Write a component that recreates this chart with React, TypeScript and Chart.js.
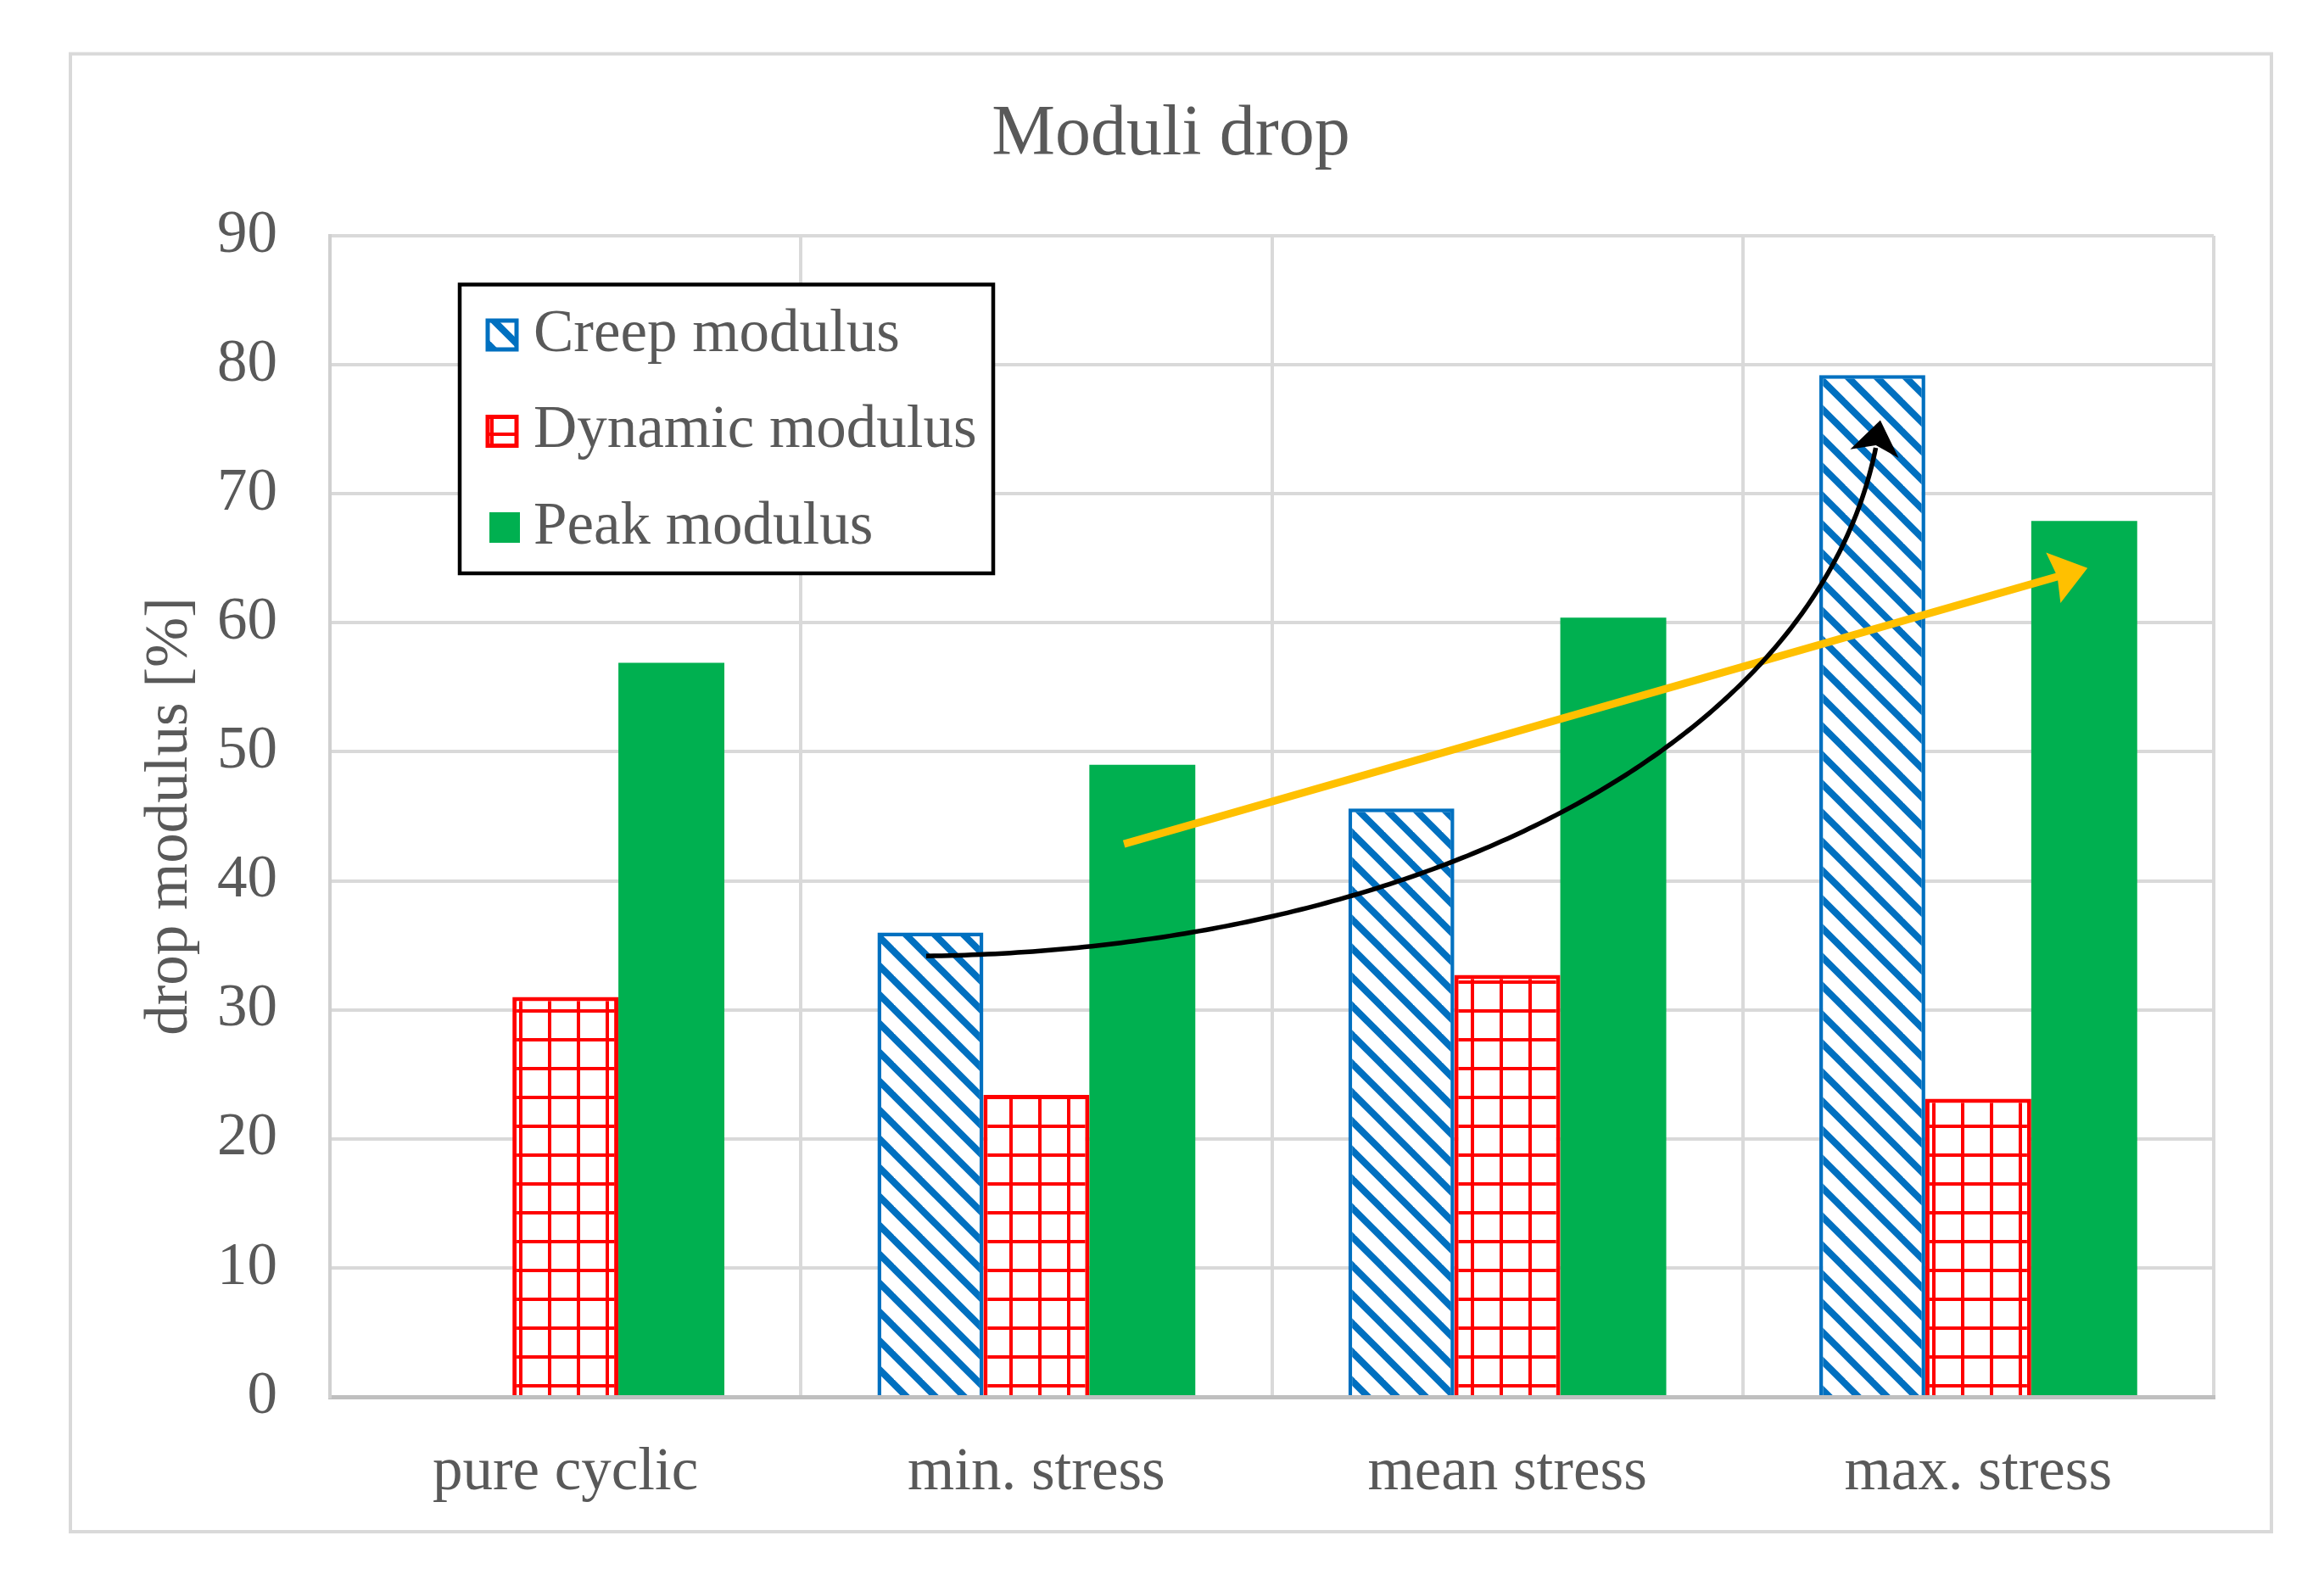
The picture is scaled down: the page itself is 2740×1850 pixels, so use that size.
import React, { useEffect, useRef } from "react";
import { Chart, registerables } from "chart.js";

Chart.register(...registerables);

// ---------- data ----------
const categories = ["pure cyclic", "min. stress", "mean stress", "max. stress"];
const seriesNames = ["Creep modulus", "Dynamic modulus", "Peak modulus"];
const creepModulus: (number | null)[] = [null, 36.0, 45.6, 79.2];
const dynamicModulus = [31.0, 23.4, 32.7, 23.1];
const peakModulus = [56.9, 49.0, 60.4, 67.9];
const yMin = 0;
const yMax = 90;
const yStep = 10;
const chartTitle = "Moduli drop";
const yAxisTitle = "drop modulus [%]";

// annotation arrows, in data coordinates: [category index, value]
const trendArrowStart = [1.186, 42.86];
const trendArrowEnd = [3.232, 64.25];
const creepCurve = [
  [0.766, 34.17],
  [1.861, 34.69],
  [2.708, 51.8],
  [2.792, 75.7],
];

// ---------- styles ----------
const FONT = "'Liberation Serif', 'Times New Roman', serif";
const TEXT = "#595959";
const BLUE = "#0070C0";
const RED = "#FF0000";
const GREEN = "#00B050";
const YELLOW = "#FFC000";
const GRID = "#D9D9D9";
const AXIS = "#BFBFBF";

function stripePattern(ctx: CanvasRenderingContext2D, color: string) {
  const s = 34;
  const c = document.createElement("canvas");
  c.width = s;
  c.height = s;
  const g = c.getContext("2d")!;
  g.fillStyle = "#fff";
  g.fillRect(0, 0, s, s);
  g.strokeStyle = color;
  g.lineWidth = 8;
  for (let k = -1; k <= 1; k++) {
    g.beginPath();
    g.moveTo(k * s - 3, -3);
    g.lineTo(k * s + s + 3, s + 3);
    g.stroke();
  }
  return ctx.createPattern(c, "repeat")!;
}

function gridPattern(ctx: CanvasRenderingContext2D, color: string) {
  const s = 34;
  const c = document.createElement("canvas");
  c.width = s;
  c.height = s;
  const g = c.getContext("2d")!;
  g.fillStyle = "#fff";
  g.fillRect(0, 0, s, s);
  g.fillStyle = color;
  g.fillRect(0, 0, 4, s);
  g.fillRect(0, 0, s, 4);
  return ctx.createPattern(c, "repeat")!;
}

function drawHead(
  ctx: CanvasRenderingContext2D,
  tip: number[],
  ang: number,
  color: string,
  len: number,
  half: number,
  notch: number
) {
  ctx.save();
  ctx.translate(tip[0], tip[1]);
  ctx.rotate(ang);
  ctx.beginPath();
  ctx.moveTo(0, 0);
  ctx.lineTo(-len, -half);
  ctx.lineTo(-len + notch, 0);
  ctx.lineTo(-len, half);
  ctx.closePath();
  ctx.fillStyle = color;
  ctx.fill();
  ctx.restore();
}

const backgroundPlugin = {
  id: "bgBorder",
  beforeDraw(chart: any) {
    const ctx = chart.ctx;
    ctx.save();
    ctx.fillStyle = "#fff";
    ctx.fillRect(0, 0, chart.width, chart.height);
    ctx.strokeStyle = GRID;
    ctx.lineWidth = 4;
    ctx.strokeRect(83, 63.5, 2678 - 83, 1806 - 63.5);
    ctx.restore();
  },
};

const arrowPlugin = {
  id: "arrows",
  afterDatasetsDraw(chart: any) {
    const ctx = chart.ctx;
    const xs = chart.scales.x;
    const ys = chart.scales.y;
    const px = (p: number[]) => [xs.getPixelForValue(p[0]), ys.getPixelForValue(p[1])];

    ctx.save();
    // yellow straight arrow
    const a = px(trendArrowStart);
    const b = px(trendArrowEnd);
    const ang = Math.atan2(b[1] - a[1], b[0] - a[0]);
    const yl = 42, yh = 31, yn = 5;
    const endLine = [b[0] - Math.cos(ang) * (yl - yn - 1), b[1] - Math.sin(ang) * (yl - yn - 1)];
    ctx.strokeStyle = YELLOW;
    ctx.lineWidth = 9;
    ctx.lineCap = "butt";
    ctx.beginPath();
    ctx.moveTo(a[0], a[1]);
    ctx.lineTo(endLine[0], endLine[1]);
    ctx.stroke();
    drawHead(ctx, b, ang, YELLOW, yl, yh, yn);

    // black curved arrow (cubic bezier through data-space control points)
    const P = creepCurve.map(px);
    const pts: number[][] = [];
    for (let i = 0; i <= 200; i++) {
      const t = i / 200;
      const u = 1 - t;
      const w0 = u * u * u, w1 = 3 * u * u * t, w2 = 3 * u * t * t, w3 = t * t * t;
      pts.push([
        w0 * P[0][0] + w1 * P[1][0] + w2 * P[2][0] + w3 * P[3][0],
        w0 * P[0][1] + w1 * P[1][1] + w2 * P[2][1] + w3 * P[3][1],
      ]);
    }
    const tip = pts[pts.length - 1];
    const bl = 40, bh = 29, bn = 10;
    const dist = (p: number[]) => Math.hypot(p[0] - tip[0], p[1] - tip[1]);
    ctx.strokeStyle = "#000";
    ctx.lineWidth = 5.5;
    ctx.lineJoin = "round";
    ctx.beginPath();
    ctx.moveTo(pts[0][0], pts[0][1]);
    for (const p of pts) {
      if (dist(p) < bl - bn - 1) break;
      ctx.lineTo(p[0], p[1]);
    }
    ctx.stroke();
    let ref = pts[0];
    for (const p of pts) {
      if (dist(p) >= bl) ref = p;
    }
    const bang = Math.atan2(tip[1] - ref[1], tip[0] - ref[0]);
    drawHead(ctx, tip, bang, "#000", bl, bh, bn);
    ctx.restore();
  },
};

const legendPlugin = {
  id: "boxLegend",
  afterDraw(chart: any) {
    const ctx = chart.ctx;
    const area = chart.chartArea;
    const bx = area.left + 153;
    const by = area.top + 57.5;
    const bw = 629;
    const bh = 340.5;
    ctx.save();
    ctx.fillStyle = "#fff";
    ctx.fillRect(bx, by, bw, bh);
    ctx.strokeStyle = "#000";
    ctx.lineWidth = 4.5;
    ctx.strokeRect(bx, by, bw, bh);
    ctx.font = `71px ${FONT}`;
    ctx.textBaseline = "middle";
    ctx.textAlign = "left";
    chart.data.datasets.forEach((ds: any, i: number) => {
      const cy = by + 59.5 + i * 113.5;
      const mx = bx + 33;
      if (ds.borderWidth > 0) {
        ctx.fillStyle = ds.backgroundColor;
        ctx.fillRect(mx, cy - 17, 34, 34);
        ctx.strokeStyle = ds.borderColor;
        ctx.lineWidth = 5;
        ctx.strokeRect(mx, cy - 17, 34, 34);
      } else {
        ctx.fillStyle = ds.backgroundColor;
        ctx.fillRect(mx + 2, cy - 18, 36, 36);
      }
      ctx.fillStyle = TEXT;
      ctx.fillText(ds.label, bx + 87, cy);
    });
    ctx.restore();
  },
};

export default function App() {
  const ref = useRef<HTMLCanvasElement | null>(null);

  useEffect(() => {
    const canvas = ref.current!;
    const ctx = canvas.getContext("2d")!;
    const stripes = stripePattern(ctx, BLUE);
    const grid = gridPattern(ctx, RED);

    const chart = new Chart(canvas, {
      type: "bar",
      data: {
        labels: categories,
        datasets: [
          {
            label: seriesNames[0],
            data: creepModulus,
            backgroundColor: stripes as any,
            borderColor: BLUE,
            borderWidth: 4.5,
          },
          {
            label: seriesNames[1],
            data: dynamicModulus,
            backgroundColor: grid as any,
            borderColor: RED,
            borderWidth: 5,
          },
          {
            label: seriesNames[2],
            data: peakModulus,
            backgroundColor: GREEN,
            borderWidth: 0,
          },
        ],
      },
      options: {
        responsive: false,
        animation: false,
        events: [],
        layout: { padding: { left: 151, right: 130, top: 0, bottom: 0 } },
        datasets: { bar: { categoryPercentage: 0.675, barPercentage: 1 } } as any,
        plugins: {
          legend: { display: false },
          tooltip: { enabled: false },
          title: {
            display: true,
            text: chartTitle,
            color: TEXT,
            font: { family: FONT, size: 84, weight: "normal" as any },
            padding: { top: 110, bottom: 67.2 },
          },
        },
        scales: {
          x: {
            grid: { color: GRID, lineWidth: 4, drawTicks: false, offset: true },
            border: { color: AXIS, width: 5 },
            ticks: {
              color: TEXT,
              font: { family: FONT, size: 71 },
              padding: 48,
              maxRotation: 0,
              autoSkip: false,
            },
            afterFit: (s: any) => {
              s.height = 203;
            },
          },
          y: {
            min: yMin,
            max: yMax,
            ticks: {
              stepSize: yStep,
              color: TEXT,
              font: { family: FONT, size: 71 },
              padding: 62,
            },
            grid: { color: GRID, lineWidth: 4, drawTicks: false },
            border: { color: "#D0D0D0", width: 4 },
            title: {
              display: true,
              text: yAxisTitle,
              color: TEXT,
              font: { family: FONT, size: 71 },
              padding: { top: 8, bottom: 0 },
            },
            afterFit: (s: any) => {
              s.width = 238;
            },
          },
        },
      },
      plugins: [backgroundPlugin, arrowPlugin, legendPlugin],
    });

    return () => chart.destroy();
  }, []);

  return (
    <div style={{ position: "absolute", left: 0, top: 0, width: 2740, height: 1850, background: "#fff" }}>
      <canvas ref={ref} width={2740} height={1850} style={{ width: 2740, height: 1850, display: "block" }} />
    </div>
  );
}
